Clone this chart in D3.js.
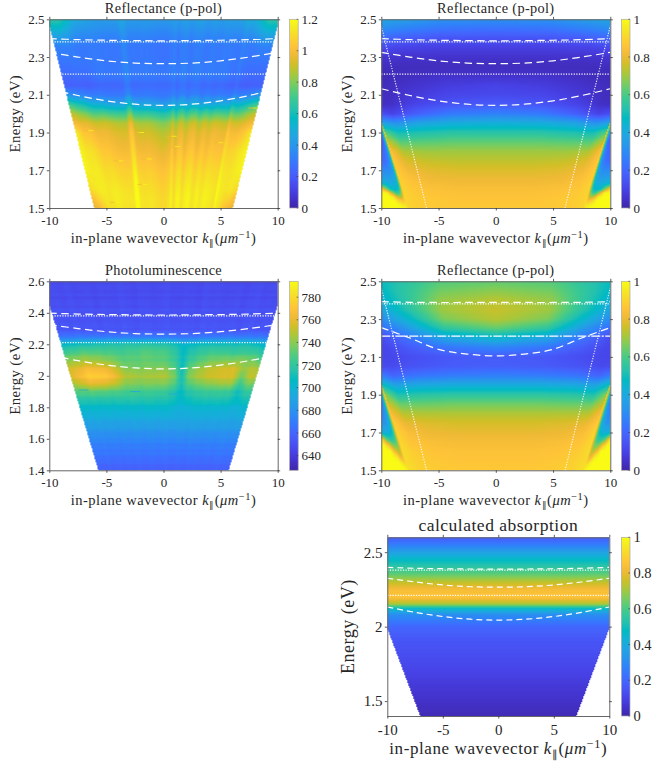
<!DOCTYPE html>
<html>
<head>
<meta charset="utf-8">
<script src="https://cdn.jsdelivr.net/npm/d3@7"></script>
<style>
  html, body { margin: 0; padding: 0; background: #fff; }
  svg { display: block; opacity: 0.999; }
  text { font-family: "Liberation Serif", serif; fill: #262626; }
</style>
</head>
<body>
<div id="chart"></div>
<script>
// parula colormap, every third entry of the 64 colour table
const parula = [
  [0.2422,0.1504,0.6603],[0.2647,0.1978,0.7952],[0.2783,0.2559,0.8991],[0.2810,0.3228,0.9579],
  [0.2699,0.3892,0.9906],[0.2206,0.4603,0.9973],[0.1786,0.5289,0.9682],[0.1540,0.5902,0.9218],
  [0.1248,0.6459,0.8883],[0.0689,0.6948,0.8394],[0.0067,0.7312,0.7660],[0.1408,0.7584,0.6842],
  [0.2161,0.7843,0.5923],[0.3406,0.8008,0.4789],[0.5044,0.7993,0.3480],[0.6720,0.7793,0.2227],
  [0.8203,0.7498,0.1535],[0.9393,0.7288,0.2100],[0.9970,0.7659,0.2199],[0.9786,0.8386,0.1766],
  [0.9597,0.9135,0.1423],[0.9769,0.9839,0.0805]
];

const kTicks = [-10, -5, 0, 5, 10];
const eTicksA = [1.5, 1.7, 1.9, 2.1, 2.3, 2.5];
const eTicksB = [1.4, 1.6, 1.8, 2, 2.2, 2.4, 2.6];
const eTicksC = [1.5, 2, 2.5];
const cbTicksA = [0, 0.2, 0.4, 0.6, 0.8, 1, 1.2];
const cbTicksB = [0, 0.2, 0.4, 0.6, 0.8, 1];
const cbTicksPL = [640, 660, 680, 700, 720, 740, 760, 780];

// white overlay curves
const curveK = [-10, -7.5, -5, -2.5, 0, 2.5, 5, 7.5, 10];
const lowerE = [2.132, 2.096, 2.068, 2.05, 2.044, 2.05, 2.068, 2.096, 2.132];
const middleE = [2.325, 2.3, 2.28, 2.268, 2.265, 2.268, 2.28, 2.3, 2.325];
const upperE = [2.398, 2.392, 2.389, 2.387, 2.386, 2.387, 2.389, 2.392, 2.398];
const lowerStrongE = [2.255, 2.2, 2.14, 2.115, 2.105, 2.115, 2.14, 2.2, 2.255];
const upperStrongE = [2.392, 2.389, 2.388, 2.388, 2.388, 2.388, 2.388, 2.389, 2.392];
const flatK = [-10, 10];
const excitonA = 2.38;
const excitonB = 2.21;
const lightK = [6.05, 10];
const lightE = [1.5, 2.465];

// Reflectance measured: rows by energy, columns by |k|/E
const r1S = [0, 2.5, 3.2, 3.7, 4.05];
const r1E = [2.5, 2.45, 2.4, 2.35, 2.3, 2.25, 2.2, 2.15, 2.1, 2.05, 2, 1.95, 1.9, 1.8, 1.7, 1.6, 1.55, 1.5];
const r1Grid = [
  [.43,.43,.50,.65,.65],
  [.38,.38,.42,.54,.54],
  [.33,.33,.35,.42,.42],
  [.30,.30,.30,.32,.32],
  [.30,.30,.30,.30,.30],
  [.32,.30,.28,.27,.27],
  [.32,.30,.26,.25,.25],
  [.27,.24,.22,.22,.22],
  [.32,.30,.32,.34,.40],
  [.47,.48,.55,.62,.70],
  [.68,.72,.75,.82,.90],
  [.85,.90,.92,.95,1.0],
  [.92,.96,1.0,1.03,1.15],
  [1.0,1.02,1.08,1.12,1.18],
  [1.07,1.09,1.13,1.14,1.18],
  [1.12,1.14,1.15,1.13,1.10],
  [1.14,1.15,1.14,1.07,1.0],
  [1.14,1.14,1.12,.98,.95]
];
// vertical stripes of the measured map, by signed k/E
const r1StripeS = [-4,-3.4,-3,-2.6,-2.2,-1.9,-1.65,-1.52,-1.42,-1.3,-1,-.7,-.35,-.1,.1,.3,.42,.55,.7,.85,1,1.2,1.4,1.6,1.85,2.05,2.3,2.6,2.85,2.95,3.1,3.4,3.7,4];
const r1Stripe = [0,.015,-.015,.01,-.015,-.02,-.015,.09,.09,-.01,-.02,-.01,-.03,-.05,-.045,-.02,.04,-.045,.025,.04,-.03,.025,.04,-.025,.03,-.015,.025,0,-.025,.06,0,-.015,.01,0];
const r1SpotK = [-6.57,-2.14,1,-1.47,-1.85,-4.24,.71,-3.95,4.79,7.84];
const r1SpotE = [1.91,1.9,1.825,1.76,1.625,1.53,1.88,1.75,1.846,2.03];

// Reflectance calculated, weak coupling
const innerS = [0, 2, 3.5, 4.5, 5.1];
const innerE = [2.5,2.45,2.4,2.35,2.3,2.25,2.2,2.15,2.1,2.05,2,1.95,1.9,1.85,1.8,1.75,1.7,1.65,1.6,1.55,1.5];
const r2Grid = [
  [.31,.32,.37,.40,.40],
  [.23,.24,.28,.32,.32],
  [.15,.15,.18,.22,.22],
  [.09,.09,.10,.13,.13],
  [.05,.05,.05,.06,.06],
  [.03,.03,.03,.03,.03],
  [.05,.05,.03,.02,.02],
  [.10,.08,.05,.03,.03],
  [.12,.11,.07,.03,.03],
  [.17,.15,.10,.04,.04],
  [.27,.25,.18,.10,.14],
  [.42,.41,.38,.32,.38],
  [.54,.54,.52,.50,.62],
  [.63,.63,.62,.62,.75],
  [.70,.70,.70,.72,.85],
  [.74,.74,.75,.78,.87],
  [.78,.78,.79,.82,.88],
  [.81,.81,.82,.85,.89],
  [.84,.84,.85,.87,.90],
  [.86,.86,.87,.88,.90],
  [.87,.87,.87,.88,.90]
];
// Reflectance calculated, strong coupling
const r4Grid = [
  [.63,.61,.52,.45,.45],
  [.68,.65,.53,.42,.42],
  [.73,.69,.52,.38,.38],
  [.75,.70,.50,.34,.34],
  [.73,.66,.43,.28,.28],
  [.63,.55,.33,.20,.20],
  [.45,.38,.23,.13,.13],
  [.28,.24,.17,.11,.11],
  [.17,.16,.13,.11,.11],
  [.18,.17,.15,.12,.13],
  [.27,.26,.24,.20,.28],
  [.41,.41,.40,.38,.50],
  [.55,.55,.54,.52,.68],
  [.65,.65,.64,.64,.76],
  [.72,.72,.72,.73,.84],
  [.77,.77,.78,.80,.88],
  [.80,.80,.81,.84,.90],
  [.83,.83,.84,.86,.91],
  [.85,.85,.86,.88,.92],
  [.86,.86,.87,.89,.92],
  [.87,.87,.88,.90,.93]
];
// corner region outside the second light line
const outerS = [5.1, 5.2, 5.3, 5.5, 5.75, 6, 6.25, 6.67];
const outerE = [1.5, 1.52, 1.54, 1.56, 1.58, 1.6, 1.63, 1.66, 1.7, 1.75, 1.85, 1.97];
const r2Outer = [
  [.92,.96,.98,1,1,1,1,1],
  [.92,.93,.93,.97,1,1,1,1],
  [.93,.85,.85,.90,1,1,1,1],
  [.93,.80,.70,.75,.95,1,1,1],
  [.93,.72,.60,.55,.75,.98,1,1],
  [.93,.65,.50,.45,.50,.70,.90,1],
  [.93,.60,.45,.40,.42,.45,.50,.80],
  [.94,.57,.40,.36,.36,.37,.38,.40],
  [.94,.55,.35,.30,.30,.30,.30,.30],
  [.95,.50,.30,.22,.20,.20,.20,.20],
  [.95,.45,.20,.16,.16,.16,.16,.16],
  [.90,.40,.20,.15,.15,.15,.15,.15]
];
const r4Outer = [
  [.95,.98,1,1,1,1,1,1],
  [.93,.95,.98,1,1,1,1,1],
  [.92,.88,.95,1,1,1,1,1],
  [.92,.82,.85,.98,1,1,1,1],
  [.92,.78,.78,.92,1,1,1,1],
  [.92,.76,.72,.82,1,1,1,1],
  [.92,.72,.65,.68,.88,1,1,1],
  [.92,.70,.58,.55,.65,.95,1,1],
  [.92,.68,.50,.42,.42,.50,.50,.50],
  [.92,.65,.42,.33,.33,.33,.33,.33],
  [.94,.60,.32,.22,.22,.22,.22,.22],
  [.90,.55,.30,.20,.20,.20,.20,.20]
];

// Photoluminescence, columns by signed k/E
const plS = [-4.1,-3.2,-2.4,-1.6,-.8,0,.5,.8,1.1,2,3,3.4,3.8,4.1];
const plE = [2.6,2.3,2.25,2.2,2.15,2.1,2.05,2,1.95,1.9,1.85,1.8,1.7,1.6,1.5,1.4];
const plGrid = [
  [647,647,647,647,647,647,647,647,647,647,647,647,647,647],
  [652,652,652,652,652,652,652,652,652,652,652,652,652,652],
  [664,666,666,666,666,666,664,662,664,666,666,666,666,664],
  [705,712,715,716,718,716,712,702,708,712,712,712,708,700],
  [722,730,728,725,730,728,720,706,716,725,722,722,722,715],
  [738,745,740,730,732,730,722,706,722,735,738,738,735,725],
  [752,764,760,737,738,740,730,708,734,750,756,742,748,745],
  [757,776,772,747,745,748,737,710,740,754,758,735,752,750],
  [745,760,755,738,738,738,730,710,730,740,745,722,738,735],
  [730,732,730,726,725,724,717,706,717,724,724,710,722,722],
  [716,716,716,716,716,714,712,702,710,714,714,706,712,714],
  [705,704,704,704,704,704,702,698,701,702,702,698,702,704],
  [690,690,690,690,690,690,690,690,690,690,690,688,690,690],
  [675,675,675,675,675,675,675,675,675,675,675,675,675,675],
  [666,666,666,666,666,666,666,666,666,666,666,666,666,666],
  [657,657,657,657,657,657,657,657,657,657,657,657,657,657]
];
// faint horizontal and vertical striping of the camera image
const plRowTex = [.5,-1,1,0,-.5,1.5,-1,.5,-1.5,1,0,1,-1,-.5,1.5,0,-1.5,.5,1,-.5,.5,-1,1.5,0,-.5,1,-1.5,.5,0,1,-1,1.5,-.5,0,1,-1.5,.5,-.5,1.5,-1,0,.5,-1,1,-.5,1.5,0,-1.5,1,.5,-1,0,1,-.5,1.5,-1,.5,0,-1.5,1,-.5,.5,1,-1];
const plColTex = [0,.5,-.5,1,-.5,0,.5,-1,.5,0,-.5,1,0,-1,.5,.5,-.5,0,1,-.5,-.5,.5,0,-1,1,0,.5,-.5,0,.5,-1,.5,1,-.5,0,-.5];
const plSpotK = [-7, -2.49, .86];
const plSpotE = [1.91, 1.9, 1.883];

// calculated absorption
const absS = [0, 5.1];
const absE = [2.6,2.55,2.5,2.45,2.4,2.35,2.3,2.25,2.2,2.15,2.12,2.08,2,1.9,1.77,1.6,1.4];
const absGrid = [
  [.17,.17],[.26,.26],[.37,.37],[.47,.47],[.55,.55],[.63,.63],[.74,.74],[.83,.83],[.86,.86],
  [.70,.70],[.46,.46],[.31,.31],[.20,.20],[.15,.15],[.12,.12],[.07,.07],[.02,.02]
];

const width = 664, height = 768;
const svg = d3.select("#chart").append("svg").attr("width", width).attr("height", height);

const colorStops = parula.map(c => d3.rgb(c[0] * 255, c[1] * 255, c[2] * 255));
const unit = d3.scaleLinear()
  .domain(colorStops.map((c, i) => i / (colorStops.length - 1)))
  .range(colorStops);
const lut = d3.range(512).map(i => d3.rgb(unit(i / 511)));

// bilinear shading between table nodes, same as MATLAB shading interp
function gridLookup(sNodes, eNodes, rows) {
  const sIdx = d3.scaleLinear().domain(sNodes).range(d3.range(sNodes.length)).clamp(true);
  const eIdx = d3.scaleLinear().domain(eNodes).range(d3.range(eNodes.length)).clamp(true);
  return (s, e) => {
    const a = sIdx(s), b = eIdx(e);
    const a0 = Math.floor(a), b0 = Math.floor(b);
    const a1 = Math.min(a0 + 1, sNodes.length - 1), b1 = Math.min(b0 + 1, eNodes.length - 1);
    const fa = a - a0, fb = b - b0;
    return (rows[b0][a0] * (1 - fa) + rows[b0][a1] * fa) * (1 - fb)
         + (rows[b1][a0] * (1 - fa) + rows[b1][a1] * fa) * fb;
  };
}

function splitLookup(innerRows, outerRows) {
  const inner = gridLookup(innerS, innerE, innerRows);
  const out = gridLookup(outerS, outerE, outerRows);
  return (s, e) => Math.abs(s) > 5.1 ? out(Math.abs(s), e) : inner(Math.abs(s), e);
}

const r1Base = gridLookup(r1S, r1E, r1Grid);
const r1StripeAt = d3.scaleLinear().domain(r1StripeS).range(r1Stripe).clamp(true);
const plBase = gridLookup(plS, plE, plGrid);
const plRowAt = d3.scaleQuantize().domain([1.4, 2.6]).range(plRowTex);
const plColAt = d3.scaleQuantize().domain([-4.1, 4.1]).range(plColTex);
const absBase = gridLookup(absS, absE, absGrid);

const panels = [
  { title: "Reflectance (p-pol)", x0: 49.3, x1: 277.7, y0: 19.3, y1: 208, cbX: 289.6, eDomain: [1.5, 2.5], eTicks: eTicksA,
    cDomain: [0, 1.2], cTicks: cbTicksA, wedge: 4.05,
    value: (s, e) => r1Base(Math.abs(s), e) + r1StripeAt(s) * (e < 2.1 ? 1 : 0.45),
    lines: [lowerE, middleE, upperE], spots: { k: r1SpotK, e: r1SpotE, left: 0.98, right: 1.19 } },
  { title: "Reflectance (p-pol)", x0: 381.3, x1: 610.3, y0: 19.3, y1: 208, cbX: 621.4, eDomain: [1.5, 2.5], eTicks: eTicksA,
    cDomain: [0, 1], cTicks: cbTicksB, wedge: 9,
    value: splitLookup(r2Grid, r2Outer),
    lines: [lowerE, middleE, upperE], light: true },
  { title: "Photoluminescence", x0: 49.3, x1: 277.7, y0: 281.3, y1: 470.3, cbX: 289.6, eDomain: [1.4, 2.6], eTicks: eTicksB,
    cDomain: [627, 794], cTicks: cbTicksPL, wedge: 4.08,
    value: (s, e) => plBase(s, e) + plRowAt(e) + plColAt(s),
    lines: [lowerE, middleE, upperE], spots: { k: plSpotK, e: plSpotE, left: 695, right: 690 } },
  { title: "Reflectance (p-pol)", x0: 381.3, x1: 610.3, y0: 281.3, y1: 470.3, cbX: 621.4, eDomain: [1.5, 2.5], eTicks: eTicksA,
    cDomain: [0, 1], cTicks: cbTicksB, wedge: 9,
    value: splitLookup(r4Grid, r4Outer),
    lines: [lowerStrongE, upperStrongE], light: true, dashDot: true },
  { title: "calculated absorption", x0: 387.3, x1: 609.3, y0: 537.3, y1: 716, cbX: 621.4, eDomain: [1.4, 2.6], eTicks: eTicksC,
    cDomain: [0, 1], cTicks: cbTicksB, wedge: 5.03, big: true,
    value: (s, e) => absBase(Math.abs(s), e),
    lines: [lowerE, middleE, upperE] }
];

function addKLabel(g, cx, y, size, spacing) {
  const t = g.append("text").attr("x", cx).attr("y", y).attr("text-anchor", "middle")
    .style("font-size", size + "px").style("letter-spacing", spacing + "px");
  t.append("tspan").text("in-plane wavevector ");
  t.append("tspan").style("font-style", "italic").text("k");
  t.append("tspan").attr("dy", size * 0.22).style("font-size", size * 0.62 + "px").text("\u2225");
  t.append("tspan").attr("dy", -size * 0.22).text("(");
  t.append("tspan").style("font-style", "italic").text("\u03bcm");
  t.append("tspan").attr("dy", -size * 0.36).style("font-size", size * 0.72 + "px").text("\u22121");
  t.append("tspan").attr("dy", size * 0.36).text(")");
}

panels.forEach((p, idx) => {
  const big = !!p.big;
  const x = d3.scaleLinear().domain([-10, 10]).range([p.x0, p.x1]);
  const y = d3.scaleLinear().domain(p.eDomain).range([p.y1, p.y0]);
  const c = d3.scaleLinear().domain(p.cDomain).range([0, 1]).clamp(true);
  const g = svg.append("g");

  // map is painted pixel by pixel, then placed as an image under the axes
  const w = Math.round(p.x1 - p.x0), h = Math.round(p.y1 - p.y0);
  const canvas = document.createElement("canvas");
  canvas.width = w; canvas.height = h;
  const ctx = canvas.getContext("2d");
  const img = ctx.createImageData(w, h);
  for (let j = 0; j < h; j++) {
    const e = y.invert(p.y0 + (j + 0.5) * (p.y1 - p.y0) / h);
    for (let i = 0; i < w; i++) {
      const k = x.invert(p.x0 + (i + 0.5) * (p.x1 - p.x0) / w);
      const s = k / e;
      if (Math.abs(s) > p.wedge) continue;
      const col = lut[Math.round(c(p.value(s, e)) * 511)];
      const o = (j * w + i) * 4;
      img.data[o] = col.r; img.data[o + 1] = col.g; img.data[o + 2] = col.b; img.data[o + 3] = 255;
    }
  }
  ctx.putImageData(img, 0, 0);
  g.append("image").attr("x", p.x0).attr("y", p.y0)
    .attr("width", p.x1 - p.x0).attr("height", p.y1 - p.y0)
    .attr("preserveAspectRatio", "none")
    .attr("href", canvas.toDataURL());

  // small defects of the measured maps
  if (p.spots) {
    p.spots.k.forEach((k, i) => {
      g.append("line").attr("x1", x(k) - 5).attr("x2", x(k)).attr("y1", y(p.spots.e[i])).attr("y2", y(p.spots.e[i]))
        .attr("stroke", unit(c(p.spots.left))).attr("stroke-width", 1).attr("opacity", 0.75);
      g.append("line").attr("x1", x(k)).attr("x2", x(k) + 5).attr("y1", y(p.spots.e[i])).attr("y2", y(p.spots.e[i]))
        .attr("stroke", unit(c(p.spots.right))).attr("stroke-width", 1).attr("opacity", 0.75);
    });
  }

  // white overlays
  const curve = d3.line().x(d => x(d[0])).y(d => y(d[1])).curve(d3.curveCatmullRom);
  const dash = big ? "6,4" : "7.5,4.5";
  p.lines.forEach(line => {
    g.append("path").attr("d", curve(curveK.map((k, i) => [k, line[i]])))
      .attr("fill", "none").attr("stroke", "#fff").attr("stroke-width", 1.2).attr("stroke-dasharray", dash);
  });
  [excitonA, excitonB].forEach(level => {
    const isDashDot = p.dashDot && level === excitonB;
    g.append("line").attr("x1", x(flatK[0])).attr("x2", x(flatK[1])).attr("y1", y(level)).attr("y2", y(level))
      .attr("stroke", "#fff").attr("stroke-width", 1.25)
      .attr("stroke-dasharray", isDashDot ? "9,1.5,2,1.5" : "1.2,1.4");
  });
  if (p.light) {
    [1, -1].forEach(side => {
      g.append("line").attr("x1", x(side * lightK[0])).attr("x2", x(side * lightK[1]))
        .attr("y1", y(lightE[0])).attr("y2", y(lightE[1]))
        .attr("stroke", "#fff").attr("stroke-width", 1.15).attr("stroke-dasharray", "1.2,1.4").attr("opacity", 0.9);
    });
  }

  // axes, ticks outward on all four sides
  const fs = big ? 15 : 13;
  const tick = 2.5;
  const styleAxis = a => {
    a.select(".domain").attr("stroke", "#666").attr("stroke-width", 1);
    a.selectAll("line").attr("stroke", "#333").attr("stroke-width", 0.8);
    a.selectAll("text").style("font-size", fs + "px").attr("fill", "#262626");
  };
  const fmt = d => String(+d.toFixed(1));
  g.append("g").attr("transform", `translate(0,${p.y1})`)
    .call(d3.axisBottom(x).tickValues(kTicks).tickFormat(fmt).tickSize(tick).tickSizeOuter(0).tickPadding(big ? 6 : 5)).call(styleAxis);
  g.append("g").attr("transform", `translate(0,${p.y0})`)
    .call(d3.axisTop(x).tickValues(kTicks).tickFormat("").tickSize(tick).tickSizeOuter(0)).call(styleAxis);
  g.append("g").attr("transform", `translate(${p.x0},0)`)
    .call(d3.axisLeft(y).tickValues(p.eTicks).tickFormat(fmt).tickSize(tick).tickSizeOuter(0).tickPadding(2.2)).call(styleAxis);
  g.append("g").attr("transform", `translate(${p.x1},0)`)
    .call(d3.axisRight(y).tickValues(p.eTicks).tickFormat("").tickSize(tick).tickSizeOuter(0)).call(styleAxis);

  // titles and axis labels
  const cx = (p.x0 + p.x1) / 2, cy = (p.y0 + p.y1) / 2;
  g.append("text").attr("x", cx).attr("y", big ? 531 : p.y0 - 6.5).attr("text-anchor", "middle")
    .style("font-size", (big ? 17.5 : 14.3) + "px").style("letter-spacing", (big ? 0.5 : 0.35) + "px").text(p.title);
  addKLabel(g, cx, big ? 754 : p.y1 + 35, big ? 17 : 14.5, big ? 0.6 : 0.5);
  g.append("text").attr("transform", `translate(${big ? 354 : p.x0 - 29},${cy}) rotate(-90)`).attr("text-anchor", "middle")
    .style("font-size", (big ? 18 : 14.8) + "px").style("letter-spacing", (big ? 0.5 : 0.4) + "px").text("Energy (eV)");

  // colorbar
  const cbW = 8.6;
  const cbY = d3.scaleLinear().domain(p.cDomain).range([p.y1, p.y0]);
  const gradId = "cb" + idx;
  const grad = svg.append("linearGradient").attr("id", gradId).attr("x1", 0).attr("x2", 0).attr("y1", 1).attr("y2", 0);
  colorStops.forEach((col, i) => {
    grad.append("stop").attr("offset", i / (colorStops.length - 1)).attr("stop-color", col);
  });
  g.append("rect").attr("x", p.cbX).attr("y", p.y0).attr("width", cbW).attr("height", p.y1 - p.y0)
    .attr("fill", `url(#${gradId})`).attr("stroke", "#aaa").attr("stroke-width", 0.7);
  g.selectAll(null).data(p.cTicks).join("line")
    .attr("x1", p.cbX + cbW - 1.6).attr("x2", p.cbX + cbW)
    .attr("y1", d => cbY(d)).attr("y2", d => cbY(d))
    .attr("stroke", "#333").attr("stroke-width", 0.6);
  g.selectAll(null).data(p.cTicks).join("text")
    .attr("x", p.cbX + cbW + 3.4).attr("y", d => cbY(d)).attr("dy", "0.35em")
    .style("font-size", (big ? 14.5 : 13) + "px").text(d => String(d));
});
</script>
</body>
</html>
